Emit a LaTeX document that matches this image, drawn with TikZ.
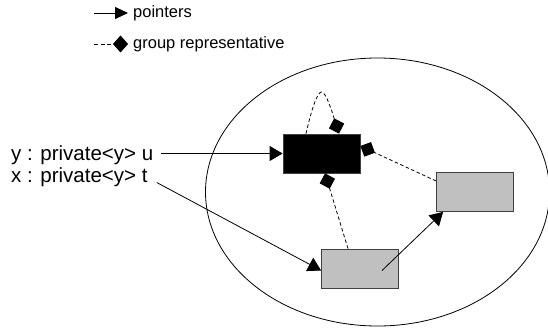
\documentclass[tikz,border=0pt]{standalone}
\usepackage{fontspec}
\setmainfont{Liberation Sans}
\usetikzlibrary{arrows.meta}
\definecolor{objgray}{HTML}{C0C0C0}
\begin{document}
\begin{tikzpicture}[x=1pt,y=-1pt,
  ptr/.style={-{Triangle[length=13pt,width=15pt]},line width=0.8pt},
  rep/.style={-{Diamond[length=16pt,width=16pt]},line width=0.8pt,dash pattern=on 3.5pt off 2.5pt},
  obj/.style={draw=black!75,line width=0.8pt,minimum width=77pt,minimum height=39pt,inner sep=0pt},
  lbl/.style={inner sep=0pt,anchor=west,font=\fontsize{20.5}{24}\selectfont},
  leg/.style={inner sep=0pt,anchor=west,font=\fontsize{16.5}{20}\selectfont}]
\useasboundingbox (0,0) rectangle (548,329);
\draw[line width=0.8pt] (377.5,192) ellipse [x radius=172pt,y radius=134pt];
\coordinate (p0) at (94,13);
\coordinate (g0) at (94,44);
\node[leg] (pleg) at (133,13) {pointers};
\node[leg] (gleg) at (133,44) {group representative};
\draw[-{Triangle[length=13pt,width=12pt]},line width=0.8pt] (p0) -- ([xshift=-5pt]pleg.west);
\draw[-{Diamond[length=15pt,width=17pt]},line width=0.8pt,dash pattern=on 4pt off 2.5pt] (g0) -- ([xshift=-5pt]gleg.west);
\node[obj,fill=black] (ubox) at (321.5,153.5) {};
\node[obj,fill=objgray] (obox) at (475,192) {};
\node[obj,fill=objgray] (tbox) at (360,268.5) {};
\node[lbl] (ulbl) at (11,155) {y : private<y> u};
\node[lbl] (tlbl) at (11,177.5) {x : private<y> t};
\coordinate (peak) at (321.5,92);
\draw[ptr] ([xshift=8pt]ulbl.east |- ubox.west) -- (ubox.west);
\draw[ptr] ([shift={(9pt,-5pt)}]tlbl.east) -- ([yshift=-2pt]tbox.west);
\draw[ptr] ([xshift=22pt,yshift=-2pt]tbox.center) -- ([xshift=7pt]obox.south west);
\draw[rep] ([yshift=11pt]obox.west) -- ([yshift=7.5pt]ubox.east);
\draw[rep] ([xshift=-12pt]tbox.north) -- ([xshift=3.5pt]ubox.south);
\draw[rep] ([xshift=-15.5pt]ubox.north) .. controls +(5,-22) and +(-4.5,0) .. (peak) .. controls +(4.5,0) and +(-7,-22) .. ([xshift=17.5pt]ubox.north);
\end{tikzpicture}
\end{document}
